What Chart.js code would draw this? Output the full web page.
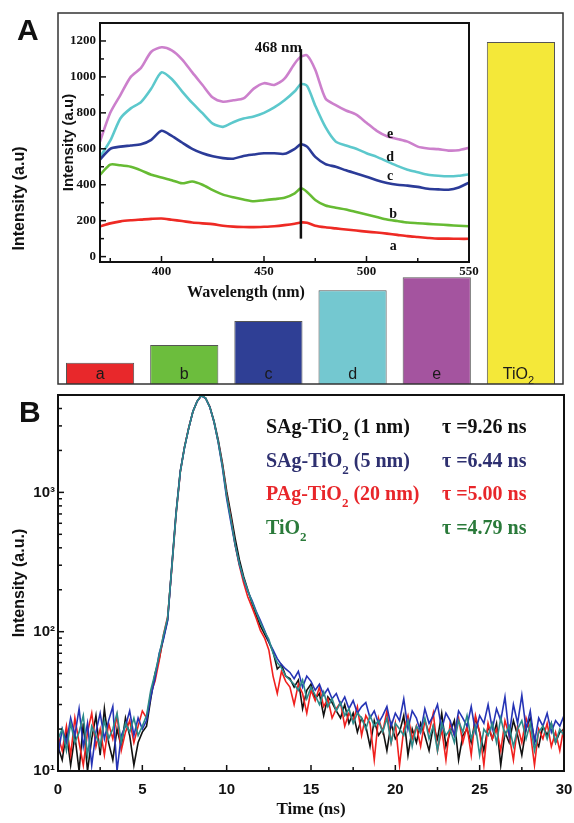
<!DOCTYPE html>
<html>
<head>
<meta charset="utf-8">
<script src="https://cdn.jsdelivr.net/npm/chart.js@4.4.0/dist/chart.umd.min.js"></script>
<style>
  html, body { margin: 0; padding: 0; background: #fff; }
  #wrap { position: relative; width: 574px; height: 823px; }
  canvas { position: absolute; left: 0; }
  #barsA { top: 0; }
  #insetA { top: 0; }
  #decayB { top: 385px; }
</style>
</head>
<body>
<div id="wrap">
  <canvas id="barsA" width="574" height="390"></canvas>
  <canvas id="insetA" width="574" height="320"></canvas>
  <canvas id="decayB" width="574" height="438"></canvas>
</div>
<script>
// ==================== DATA ====================
// Panel A - integrated PL intensity per sample
const sampleNames = ['a', 'b', 'c', 'd', 'e', 'TiO2'];
const barValues = [57, 105, 170, 253, 288, 922];
const barColors = ['#e8282b', '#6cbd3d', '#2f3f95', '#74c8d0', '#a4549f', '#f4e839'];

// Panel A inset - PL spectra (nm / a.u.)
const wavelengths = [370, 375, 380, 385, 390, 395, 400, 405, 410, 415,
  420, 425, 430, 435, 440, 445, 450, 455, 460, 465,
  468, 471, 475, 480, 485, 490, 495, 500, 505, 510,
  515, 520, 525, 530, 535, 540, 545, 550];
const specA = [168, 185, 196, 202, 206, 210, 212, 205, 198, 190,
  185, 181, 172, 167, 165, 164, 166, 169, 175, 183,
  190, 188, 172, 163, 157, 151, 145, 139, 134, 128,
  121, 114, 109, 104, 100, 100, 99, 99];
const specB = [455, 512, 508, 500, 480, 455, 440, 425, 408, 418,
  400, 370, 345, 330, 318, 308, 314, 320, 327, 352,
  380, 360, 315, 284, 272, 262, 248, 234, 220, 206,
  198, 190, 186, 182, 179, 175, 172, 169];
const specC = [540, 600, 612, 618, 625, 650, 700, 672, 635, 600,
  575, 558, 548, 545, 560, 568, 575, 575, 572, 600,
  625, 612, 555, 515, 500, 480, 462, 445, 425, 410,
  400, 395, 388, 378, 374, 372, 385, 412];
const specD = [555, 645, 770, 825, 860, 935, 1025, 988, 920, 855,
  798, 740, 722, 748, 768, 780, 800, 830, 870, 920,
  960, 950, 840, 720, 640, 618, 600, 575, 555, 530,
  505, 484, 470, 456, 450, 447, 450, 458];
const specE = [640, 800, 900, 1000, 1050, 1140, 1165, 1148, 1098, 1025,
  955, 885, 862, 870, 880, 935, 965, 955, 990, 1075,
  1112, 1120, 1040, 880, 843, 813, 790, 745, 700, 670,
  655, 640, 612, 602, 598, 590, 592, 605];
const specColors = ['#ee2a24', '#66bb33', '#2b3b98', '#5cc8cc', '#cc80cc'];
const peakNm = 468;
const peakSpan = [100, 1155];
const insetYTicks = [0, 200, 400, 600, 800, 1000, 1200];
const insetYMinor = [100, 300, 500, 700, 900, 1100];
const insetXTicks = [400, 450, 500, 550];
const insetXMinor = [375, 425, 475, 525];

// Panel B - time resolved PL decay, sampled every 0.25 ns from 0 to 30 ns
const timeStep = 0.25;
const decaySAg1 = [15, 12, 19, 11, 18, 10, 22, 10, 17, 25, 13, 28, 16, 12, 20, 15, 24, 18, 11, 16, 19,
  21, 33, 50, 64, 90, 122, 300, 720, 1420, 2120, 2880, 3820, 4520, 4960, 4760, 4120, 3250, 2380, 1620, 1020,
  700, 470, 330, 250, 200, 160, 132, 110, 96, 84, 72, 54, 58, 48, 46,
  40, 45, 28, 38, 42, 33, 36, 25, 34, 31, 27, 24, 30, 22, 26, 19, 24, 21, 15, 23,
  18, 20, 14, 22, 17, 19, 25, 13, 20, 16, 22, 18, 14, 21, 17, 26, 15, 19, 23, 12,
  18, 20, 16, 24, 19, 14, 21, 17, 22, 11, 19, 16, 23, 18, 13, 20, 24, 17, 15, 21,
  18, 22, 16, 19, 20];
const decaySAg5 = [13, 20, 16, 24, 18, 28, 15, 22, 11, 19, 26, 17, 23, 29, 10, 18, 21, 27, 18, 24, 20,
  23, 34, 46, 70, 88, 120, 295, 705, 1410, 2090, 2890, 3810, 4500, 4940, 4740, 4090, 3200, 2280, 1500, 900,
  610, 420, 305, 240, 195, 168, 140, 120, 102, 85, 74, 64, 58, 54, 51,
  46, 52, 40, 48, 44, 38, 42, 35, 39, 33, 36, 30, 34, 28, 32, 26, 29, 31, 24, 27,
  22, 25, 29, 21, 26, 23, 33, 20, 27, 24, 19, 28, 22, 25, 30, 20, 26, 23, 18, 27,
  24, 21, 29, 19, 25, 22, 30, 20, 28, 23, 34, 18, 30, 22, 35, 20, 27, 16, 24, 21,
  26, 19, 23, 21, 25];
const decayPAg20 = [18, 14, 21, 13, 24, 16, 11, 19, 26, 15, 20, 13, 22, 17, 25, 14, 19, 23, 16, 21, 27,
  24, 36, 44, 62, 95, 128, 285, 690, 1390, 2110, 2920, 3790, 4490, 4950, 4740, 4110, 3190, 2310, 1560, 960,
  650, 420, 300, 225, 178, 150, 125, 102, 90, 74, 48, 36, 52, 44, 40,
  30, 42, 36, 26, 38, 32, 40, 29, 33, 24, 28, 31, 21, 26, 23, 29, 18, 25, 22, 12,
  24, 19, 27, 16, 22, 11, 20, 25, 17, 21, 15, 23, 19, 26, 14, 20, 12, 22, 18, 24,
  16, 21, 13, 25, 19, 11, 22, 17, 20, 14, 23, 18, 12, 21, 16, 24, 19, 11, 20, 17,
  22, 15, 19, 14, 21];
const decayTiO2 = [17, 20, 14, 22, 16, 19, 25, 13, 21, 18, 15, 23, 17, 20, 26, 16, 22, 19, 24, 18, 21,
  25, 38, 50, 68, 94, 126, 292, 698, 1400, 2100, 2900, 3800, 4505, 4960, 4750, 4100, 3210, 2300, 1540, 940,
  640, 425, 310, 242, 198, 164, 138, 116, 100, 88, 70, 60, 55, 48, 45,
  42, 38, 45, 33, 40, 35, 30, 37, 29, 33, 27, 31, 25, 28, 22, 26, 24, 20, 25, 21,
  23, 19, 24, 16, 22, 20, 18, 23, 15, 21, 19, 24, 17, 21, 14, 22, 18, 20, 16, 23,
  19, 25, 17, 21, 13, 20, 18, 22, 16, 24, 18, 21, 15, 20, 23, 17, 22, 14, 19, 21,
  17, 22, 16, 20, 18];
const decayNames = [['SAg-TiO', ' (1 nm)'], ['SAg-TiO', ' (5 nm)'], ['PAg-TiO', ' (20 nm)'], ['TiO', '']];
const lifetimes = ['9.26', '6.44', '5.00', '4.79'];
const decayColors = ['#111111', '#2533b5', '#f0201e', '#2b8b8a'];
const legendColors = ['#111111', '#2e3070', '#e8262a', '#2a7a3a'];
const decayXTicks = [0, 5, 10, 15, 20, 25, 30];
const decayXMinor = [2.5, 7.5, 12.5, 17.5, 22.5, 27.5];
const decayYTicks = [10, 100, 1000];

// ==================== HELPERS ====================
const SANS = "'Liberation Sans', Arial, sans-serif";
const SERIF = "'Liberation Serif', 'Times New Roman', serif";

function toPoints(xs, ys) {
  return ys.map((v, i) => ({ x: xs[i], y: v }));
}

function drawSub(ctx, x, y, base, sub, size, subSize) {
  ctx.fillText(base, x, y);
  let w = ctx.measureText(base).width;
  const keep = ctx.font;
  ctx.font = ctx.font.replace(size + 'px', subSize + 'px');
  ctx.fillText(sub, x + w, y + Math.round(size * 0.33));
  w += ctx.measureText(sub).width;
  ctx.font = keep;
  return w;
}

// frame + inward tick marks
const frameTicks = {
  id: 'frameTicks',
  afterDraw(chart, args, o) {
    const { ctx, chartArea: a, scales } = chart;
    ctx.save();
    ctx.strokeStyle = o.color || '#111';
    ctx.lineWidth = o.lineWidth || 2;
    ctx.strokeRect(a.left, a.top, a.width, a.height);
    const tick = (axis, list, len) => (list || []).forEach(v => {
      ctx.beginPath();
      if (axis === 'x') {
        const px = scales.x.getPixelForValue(v);
        ctx.moveTo(px, a.bottom);
        ctx.lineTo(px, a.bottom - len);
      } else {
        const py = scales.y.getPixelForValue(v);
        ctx.moveTo(a.left, py);
        ctx.lineTo(a.left + len, py);
      }
      ctx.stroke();
    });
    ctx.lineWidth = 1.5;
    tick('x', o.xMajor, 6);
    tick('x', o.xMinor, 4);
    tick('y', o.yMajor, 6);
    tick('y', o.yMinor, 4);
    ctx.restore();
  }
};

const baseOpts = {
  responsive: false,
  animation: false,
  devicePixelRatio: 1,
  events: [],
  plugins: { legend: { display: false }, tooltip: { enabled: false } }
};

// ==================== PANEL A: BARS ====================
const barTags = {
  id: 'barTags',
  afterDatasetsDraw(chart) {
    const { ctx, chartArea: a } = chart;
    ctx.save();
    ctx.fillStyle = '#1a1a1a';
    ctx.textBaseline = 'alphabetic';
    ctx.font = '16px ' + SANS;
    chart.getDatasetMeta(0).data.forEach((bar, i) => {
      const name = sampleNames[i];
      const y = a.bottom - 5;
      if (name === 'TiO2') {
        ctx.textAlign = 'left';
        const w = ctx.measureText('TiO').width + 7;
        drawSub(ctx, bar.x - w / 2 - 2, y, 'TiO', '2', 16, 11);
      } else {
        ctx.textAlign = 'center';
        ctx.fillText(name, bar.x, y);
      }
    });
    // panel letter
    ctx.textAlign = 'left';
    ctx.font = 'bold 30px ' + SANS;
    ctx.fillStyle = '#111';
    ctx.fillText('A', 17, 40);
    ctx.restore();
  }
};

new Chart(document.getElementById('barsA'), {
  type: 'bar',
  data: {
    labels: sampleNames,
    datasets: [{
      data: barValues,
      backgroundColor: barColors,
      borderColor: '#555',
      borderWidth: 1,
      barPercentage: 0.81,
      categoryPercentage: 1
    }]
  },
  options: {
    ...baseOpts,
    layout: { padding: { top: 13, right: 11, bottom: 6, left: 0 } },
    scales: {
      x: { display: false },
      y: {
        min: 0,
        max: 1000,
        ticks: { display: false },
        grid: { display: false, drawTicks: false },
        border: { display: false },
        title: {
          display: true,
          text: 'Intensity (a.u)',
          color: '#111',
          font: { family: SANS, size: 16, weight: 'bold' },
          padding: { top: 10, bottom: 0 }
        },
        afterFit: s => { s.width = 58; s.paddingTop = 0; s.paddingBottom = 0; }
      }
    },
    plugins: { ...baseOpts.plugins, frameTicks: { lineWidth: 1.5, color: '#333' } }
  },
  plugins: [barTags, frameTicks]
});

// ==================== PANEL A: INSET SPECTRA ====================
const insetNotes = {
  id: 'insetNotes',
  afterDraw(chart) {
    const { ctx, scales: { x, y } } = chart;
    ctx.save();
    ctx.fillStyle = '#111';
    ctx.font = 'bold 16px ' + SERIF;
    ctx.textAlign = 'center';
    ctx.textBaseline = 'middle';
    ctx.fillText('Wavelength (nm)', 246, 293);

    ctx.textAlign = 'right';
    ctx.textBaseline = 'alphabetic';
    ctx.font = 'bold 15px ' + SERIF;
    ctx.fillText(peakNm + ' nm', x.getPixelForValue(peakNm) + 1, y.getPixelForValue(peakSpan[1]) + 3);

    ctx.textAlign = 'center';
    ctx.textBaseline = 'middle';
    ctx.font = 'bold 14px ' + SERIF;
    [['e', 511.5, 681], ['d', 511.5, 552], ['c', 511.5, 446], ['b', 513, 234], ['a', 513, 56]]
      .forEach(([t, wl, v]) => ctx.fillText(t, x.getPixelForValue(wl), y.getPixelForValue(v)));
    ctx.restore();
  }
};

const specLine = (vals, color) => ({
  data: toPoints(wavelengths, vals),
  borderColor: color,
  borderWidth: 2.6,
  pointRadius: 0,
  tension: 0.25
});

new Chart(document.getElementById('insetA'), {
  type: 'line',
  data: {
    datasets: [
      { data: [{ x: peakNm, y: peakSpan[0] }, { x: peakNm, y: peakSpan[1] }], borderColor: '#111', borderWidth: 2.5, pointRadius: 0 },
      specLine(specA, specColors[0]),
      specLine(specB, specColors[1]),
      specLine(specC, specColors[2]),
      specLine(specD, specColors[3]),
      specLine(specE, specColors[4])
    ]
  },
  options: {
    ...baseOpts,
    layout: { padding: { top: 23, right: 105, bottom: 0, left: 0 } },
    scales: {
      x: {
        type: 'linear',
        min: 370,
        max: 550,
        grid: { display: false, drawTicks: false },
        border: { display: false },
        ticks: { color: '#111', font: { family: SERIF, size: 13, weight: 'bold' }, padding: 2, maxRotation: 0, callback: v => String(v) },
        afterBuildTicks: s => { s.ticks = insetXTicks.map(v => ({ value: v })); },
        afterFit: s => { s.height = 58; s.paddingLeft = 0; s.paddingRight = 0; }
      },
      y: {
        min: -30,
        max: 1300,
        grid: { display: false, drawTicks: false },
        border: { display: false },
        ticks: { color: '#111', font: { family: SERIF, size: 13, weight: 'bold' }, padding: 4, callback: v => String(v) },
        afterBuildTicks: s => { s.ticks = insetYTicks.map(v => ({ value: v })); },
        title: {
          display: true,
          text: 'Intensity (a.u)',
          color: '#111',
          font: { family: SANS, size: 15, weight: 'bold' },
          padding: { top: 60, bottom: 0 }
        },
        afterFit: s => { s.width = 100; s.paddingTop = 0; s.paddingBottom = 0; }
      }
    },
    plugins: {
      ...baseOpts.plugins,
      frameTicks: { lineWidth: 2, color: '#111', xMajor: insetXTicks, xMinor: insetXMinor, yMajor: insetYTicks, yMinor: insetYMinor }
    }
  },
  plugins: [frameTicks, insetNotes]
});

// ==================== PANEL B: PL DECAY ====================
const times = decaySAg1.map((v, i) => i * timeStep);
const decayYMinor = [];
decayYTicks.forEach(d => { for (let k = 2; k <= 9; k++) if (d * k <= 5000) decayYMinor.push(d * k); });

const decayLegend = {
  id: 'decayLegend',
  afterDraw(chart) {
    const { ctx, chartArea: a } = chart;
    ctx.save();
    ctx.textAlign = 'left';
    ctx.textBaseline = 'alphabetic';
    decayNames.forEach((parts, i) => {
      const y = a.top + 38 + i * 33.5;
      ctx.fillStyle = legendColors[i];
      ctx.font = 'bold 20px ' + SERIF;
      const w = drawSub(ctx, a.left + 208, y, parts[0], '2', 20, 13);
      ctx.fillText(parts[1], a.left + 208 + w, y);
      ctx.fillText('\u03c4 =' + lifetimes[i] + ' ns', a.left + 384, y);
    });
    ctx.fillStyle = '#111';
    ctx.font = 'bold 30px ' + SANS;
    ctx.fillText('B', 19, 37);
    ctx.restore();
  }
};

const decayLine = (vals, color) => ({
  data: toPoints(times, vals),
  borderColor: color,
  borderWidth: 1.6,
  pointRadius: 0,
  tension: 0
});

const supers = { 10: '10\u00b9', 100: '10\u00b2', 1000: '10\u00b3' };

new Chart(document.getElementById('decayB'), {
  type: 'line',
  data: {
    datasets: [
      decayLine(decayTiO2, decayColors[3]),
      decayLine(decaySAg5, decayColors[1]),
      decayLine(decayPAg20, decayColors[2]),
      decayLine(decaySAg1, decayColors[0])
    ]
  },
  options: {
    ...baseOpts,
    layout: { padding: { top: 10, right: 10, bottom: 0, left: 0 } },
    scales: {
      x: {
        type: 'linear',
        min: 0,
        max: 30,
        grid: { display: false, drawTicks: false },
        border: { display: false },
        ticks: { color: '#111', font: { family: SANS, size: 15, weight: 'bold' }, padding: 10, maxRotation: 0 },
        afterBuildTicks: s => { s.ticks = decayXTicks.map(v => ({ value: v })); },
        title: {
          display: true,
          text: 'Time (ns)',
          color: '#111',
          font: { family: SERIF, size: 17, weight: 'bold' },
          padding: { top: 0, bottom: 3 }
        },
        afterFit: s => { s.height = 52; s.paddingLeft = 0; s.paddingRight = 0; }
      },
      y: {
        type: 'logarithmic',
        min: 10,
        max: 5000,
        grid: { display: false, drawTicks: false },
        border: { display: false },
        ticks: { color: '#111', font: { family: SANS, size: 15, weight: 'bold' }, padding: 3, callback: v => supers[v] || '' },
        afterBuildTicks: s => { s.ticks = decayYTicks.map(v => ({ value: v })); },
        title: {
          display: true,
          text: 'Intensity (a.u.)',
          color: '#111',
          font: { family: SANS, size: 16, weight: 'bold' },
          padding: { top: 10, bottom: 0 }
        },
        afterFit: s => { s.width = 58; s.paddingTop = 0; s.paddingBottom = 0; }
      }
    },
    plugins: {
      ...baseOpts.plugins,
      frameTicks: { lineWidth: 2, color: '#111', xMajor: decayXTicks, xMinor: decayXMinor, yMajor: decayYTicks, yMinor: decayYMinor }
    }
  },
  plugins: [frameTicks, decayLegend]
});
</script>
</body>
</html>
